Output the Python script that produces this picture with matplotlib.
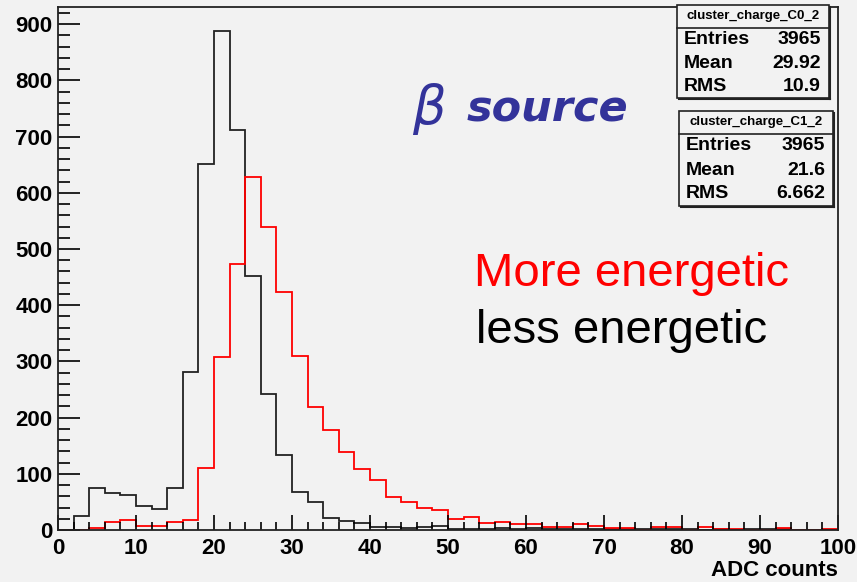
import numpy as np
import matplotlib
matplotlib.use('Agg')
import matplotlib.pyplot as plt
from matplotlib.ticker import MultipleLocator
from matplotlib.patches import Rectangle

# histogram data (ADC counts, 2-count bins from 0 to 100)
bin_edges = np.arange(0, 101, 2)
less_energetic = [0, 25, 75, 65, 63, 43, 38, 75, 281, 651,
                  888, 711, 452, 242, 133, 68, 49, 22, 16, 13,
                  6, 6, 4, 5, 7, 2, 2, 2, 3, 2,
                  4, 2, 2, 2, 1, 1, 1, 1, 1, 1,
                  1, 0, 1, 0, 1, 2, 2, 0, 0, 0]
more_energetic = [0, 0, 4, 15, 18, 8, 8, 15, 18, 110,
                  307, 474, 629, 539, 424, 310, 218, 178, 138, 108,
                  89, 58, 49, 39, 36, 20, 23, 13, 15, 11,
                  10, 6, 6, 11, 8, 3, 3, 0, 6, 6,
                  0, 6, 1, 1, 0, 0, 3, 0, 0, 1]

stat_titles = ['cluster_charge_C0_2', 'cluster_charge_C1_2']
stat_names = ['Entries', 'Mean', 'RMS']
stat_values = [['3965', '29.92', '10.9'], ['3965', '21.6', '6.662']]

BG = '#f2f2f2'
W, H = 857, 582
font = 'Liberation Sans'

fig = plt.figure(figsize=(W / 100, H / 100), dpi=100, facecolor=BG)
ax = fig.add_axes([58 / W, 1 - 530 / H, 780 / W, 523 / H], facecolor=BG)

ax.stairs(less_energetic, bin_edges, baseline=0, color='#222222', lw=1.3)
ax.stairs(more_energetic, bin_edges, baseline=0, color='#ff0000', lw=1.3)

ax.set_xlim(0, 100)
ax.set_ylim(0, 930.6)
ax.xaxis.set_major_locator(MultipleLocator(10))
ax.xaxis.set_minor_locator(MultipleLocator(2))
ax.yaxis.set_major_locator(MultipleLocator(100))
ax.yaxis.set_minor_locator(MultipleLocator(20))
ax.tick_params(axis='x', which='major', direction='in', length=11, width=1.2, pad=6)
ax.tick_params(axis='x', which='minor', direction='in', length=6, width=1.2)
ax.tick_params(axis='y', which='major', direction='in', length=16, width=1.2, pad=4)
ax.tick_params(axis='y', which='minor', direction='in', length=8.5, width=1.2)
for lab in ax.get_xticklabels() + ax.get_yticklabels():
    lab.set_fontfamily(font)
    lab.set_fontweight('bold')
    lab.set_fontsize(16)
for s in ax.spines.values():
    s.set_linewidth(1.3)
    s.set_color('#222222')

fig.text(838 / W, 1 - 576 / H, 'ADC counts', fontfamily=font, fontweight='bold',
         fontsize=16, ha='right', va='baseline')

# annotations
fig.text(412 / W, 1 - 124 / H, r'$\beta$', color='#33339a', fontsize=38,
         ha='left', va='baseline')
fig.text(467 / W, 1 - 122 / H, 'source', color='#33339a', fontsize=31,
         fontfamily='DejaVu Sans', fontweight='bold', style='italic',
         ha='left', va='baseline')
fig.text(474 / W, 1 - 286 / H, 'More energetic', color='#ff0000', fontsize=34,
         fontfamily=font, ha='left', va='baseline')
fig.text(476 / W, 1 - 343 / H, 'less energetic', color='black', fontsize=34,
         fontfamily=font, ha='left', va='baseline')

# stats boxes
boxes = [(677, 829, 5, 98, 28), (679, 833, 111, 206, 134)]
for (x0, x1, y0, y1, ysep), title, vals in zip(boxes, stat_titles, stat_values):
    fig.add_artist(Rectangle((x0 / W, 1 - y1 / H), (x1 - x0) / W, (y1 - y0) / H,
                             transform=fig.transFigure, facecolor=BG,
                             edgecolor='#222222', lw=1.2))
    fig.add_artist(plt.Line2D([(x0 + 2) / W, (x1 + 1) / W], [1 - (y1 + 1) / H] * 2,
                              transform=fig.transFigure, color='#222222', lw=1.5))
    fig.add_artist(plt.Line2D([(x1 + 1) / W] * 2, [1 - (y0 + 2) / H, 1 - (y1 + 1) / H],
                              transform=fig.transFigure, color='#222222', lw=1.5))
    fig.add_artist(plt.Line2D([x0 / W, x1 / W], [1 - ysep / H] * 2,
                              transform=fig.transFigure, color='#222222', lw=1.2))
    fig.text((x0 + x1) / 2 / W, 1 - (y0 + ysep) / 2 / H, title, fontsize=9.5,
             fontfamily=font, fontweight='bold', ha='center', va='center')
    row_h = (y1 - ysep) / 3
    for i, (name, v) in enumerate(zip(stat_names, vals)):
        yc = ysep + row_h * (i + 0.5)
        fig.text((x0 + 7) / W, 1 - yc / H, name, fontsize=14, fontfamily=font,
                 fontweight='bold', ha='left', va='center')
        fig.text((x1 - 8) / W, 1 - yc / H, v, fontsize=14, fontfamily=font,
                 fontweight='bold', ha='right', va='center')

fig.savefig('out.png', dpi=100, facecolor=BG)
